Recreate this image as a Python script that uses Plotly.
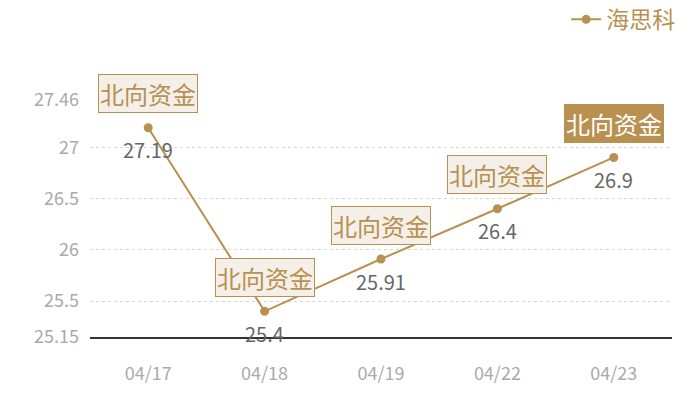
import plotly.graph_objects as go

dates = ['04/17', '04/18', '04/19', '04/22', '04/23']
prices = [27.19, 25.4, 25.91, 26.4, 26.9]
tags = ['北向资金', '北向资金', '北向资金', '北向资金', '北向资金']
tick_vals = [25.15, 25.5, 26, 26.5, 27, 27.46]

gold = '#b8904f'
cjk = 'Noto Sans CJK SC'

fig = go.Figure()
fig.add_trace(go.Scatter(
    x=dates, y=prices, name='海思科',
    mode='lines+markers',
    line=dict(color=gold, width=2),
    marker=dict(color=gold, size=9),
))

for i, (d, v, t) in enumerate(zip(dates, prices, tags)):
    last = i == len(dates) - 1
    # tag box above the point, last one highlighted
    fig.add_annotation(
        x=d, y=v, text=t, showarrow=False, yshift=34,
        font=dict(size=24, color='white' if last else gold, family=cjk),
        bgcolor=gold if last else '#f4efe8',
        bordercolor=gold, borderwidth=1, borderpad=1,
    )
    # value under the point
    fig.add_annotation(
        x=d, y=v, text=str(v), showarrow=False, yshift=-22,
        font=dict(size=20, color='#666666', family=cjk),
    )

# page body adds 8px, so margins are shifted to compensate
fig.update_layout(
    width=700, height=400,
    margin=dict(l=82, r=36, t=92, b=71, autoexpand=False),
    paper_bgcolor='white', plot_bgcolor='white',
    font=dict(family=cjk),
    showlegend=True,
    legend=dict(x=1.014, xanchor='right', y=1.34, yanchor='middle',
                maxheight=80,
                font=dict(size=23, color=gold, family=cjk),
                bgcolor='rgba(0,0,0,0)'),
)
fig.update_xaxes(
    type='category', range=[-0.5, 4.5], showgrid=False, showline=True,
    linecolor='#333333', linewidth=1.5, ticks='',
    tickfont=dict(size=18, color='#aaaaaa'), ticklabelstandoff=20,
)
fig.update_yaxes(
    range=[25.15, 27.46], tickvals=tick_vals, ticktext=[str(v) for v in tick_vals],
    showgrid=True, gridcolor='#d6d6d6', griddash='dot', gridwidth=1,
    zeroline=False, showline=False, tickfont=dict(size=18, color='#aaaaaa'),
    ticklabelstandoff=10,
)

fig.write_html('out.html')
